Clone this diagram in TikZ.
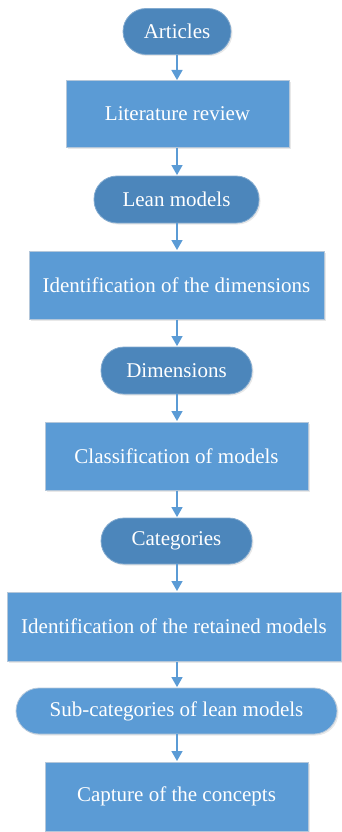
\documentclass[tikz,border=0pt]{standalone}
\usepackage{fontspec}
\setmainfont[Ligatures=NoCommon]{Liberation Serif}
\usetikzlibrary{arrows.meta,shadows}
\definecolor{boxblue}{HTML}{5B9BD5}
\definecolor{pillblue}{HTML}{4C86BB}
\definecolor{edgegray}{HTML}{B4C7DA}
\tikzset{
  base/.style={text=white, font=\fontsize{21}{25}\selectfont, inner sep=0pt,
    drop shadow={shadow xshift=1.5pt, shadow yshift=-1.5pt, opacity=0.18, fill=gray}},
  stepbox/.style={base, rectangle, fill=boxblue, draw=edgegray, line width=1pt},
  pill/.style={base, rectangle, rounded corners=23pt, fill=pillblue, draw=pillblue!70!white, line width=0.8pt},
  lightpill/.style={pill, fill=boxblue, draw=edgegray},
  link/.style={draw=boxblue, line width=1.4pt, -{Triangle[length=10pt,width=11pt]}, shorten >=0.5pt}
}
\begin{document}
\begin{tikzpicture}[x=1pt,y=1pt]
\useasboundingbox (0,0) rectangle (341,-832);
\node[pill, minimum width=108pt, minimum height=46pt] (a) at (177,-31.5) {Articles};
\node[stepbox, minimum width=223pt, minimum height=66pt] (b) at (177.5,-114) {Literature review};
\node[pill, minimum width=165pt, minimum height=47pt] (c) at (176.5,-199.5) {Lean models};
\node[stepbox, minimum width=295pt, minimum height=68pt] (d) at (176.5,-285) {Identification of the dimensions};
\node[pill, minimum width=151pt, minimum height=47pt] (e) at (176.5,-370.5) {Dimensions};
\node[stepbox, minimum width=263pt, minimum height=68pt] (f) at (176.5,-456) {Classification of models};
\node[pill, minimum width=151pt, minimum height=46pt] (g) at (176.5,-541) {Categories};
\node[stepbox, minimum width=334pt, minimum height=69pt] (h) at (174,-626.5) {Identification of the retained models};
\node[lightpill, minimum width=321pt, minimum height=46pt] (i) at (176.5,-711) {Sub-categories of lean models};
\node[stepbox, minimum width=263pt, minimum height=69pt] (j) at (176.5,-796.5) {Capture of the concepts};
\foreach \p/\q in {a/b,b/c,c/d,d/e,e/f,f/g,g/h,h/i,i/j}
  \draw[link] (\p.south -| 177,0) -- (\q.north -| 177,0);
\end{tikzpicture}
\end{document}
